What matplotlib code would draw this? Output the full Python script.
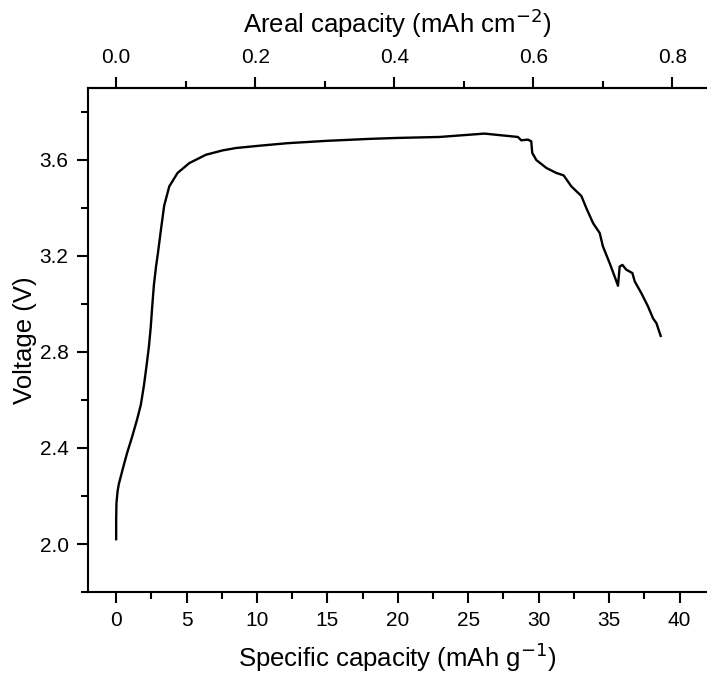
import numpy as np
import matplotlib.pyplot as plt
from matplotlib.ticker import MultipleLocator

plt.rcParams['font.family'] = ['Liberation Sans', 'DejaVu Sans']

# specific capacity (mAh/g) and voltage (V)
capacity = [0.0, 0.0, 0.02, 0.1, 0.19, 0.5, 0.78, 1.15, 1.49, 1.75, 1.97,
            2.15, 2.32, 2.45, 2.56, 2.68, 2.84, 2.96, 3.07, 3.18, 3.41, 3.77,
            4.36, 5.19, 6.38, 7.56, 8.51, 10.26, 12.15, 15.0, 18.0, 20.0,
            22.96, 26.15, 28.52, 28.76, 29.23, 29.47, 29.54, 29.83, 30.54,
            31.25, 31.77, 32.32, 33.03, 33.38, 33.86, 34.33, 34.56, 35.04,
            35.39, 35.63, 35.75, 35.94, 36.22, 36.65, 36.82, 37.29, 37.76,
            38.12, 38.36, 38.66]
voltage = [2.02, 2.10, 2.17, 2.22, 2.25, 2.32, 2.38, 2.45, 2.52, 2.58, 2.66,
           2.74, 2.82, 2.90, 2.99, 3.08, 3.16, 3.21, 3.26, 3.31, 3.41, 3.49,
           3.546, 3.587, 3.622, 3.64, 3.65, 3.66, 3.67, 3.68, 3.688, 3.692,
           3.696, 3.71, 3.696, 3.682, 3.685, 3.678, 3.63, 3.60, 3.567,
           3.546, 3.536, 3.49, 3.45, 3.40, 3.337, 3.296, 3.24, 3.17,
           3.115, 3.076, 3.156, 3.163, 3.143, 3.129, 3.094, 3.045, 2.99,
           2.94, 2.92, 2.867]

areal_ticks = [0.0, 0.2, 0.4, 0.6, 0.8]

# mass loading: areal = specific * k
k = 0.8 / 39.5

fig = plt.figure(figsize=(7.07, 6.77), dpi=100)
ax = fig.add_axes([88 / 707, 1 - 592 / 677, 1 - 88 / 707, (592 - 88) / 677])

ax.plot(capacity, voltage, color='black', linewidth=1.7, solid_joinstyle='round')

ax.set_xlim(-2, 41.95)
ax.set_ylim(1.8, 3.9)
ax.xaxis.set_major_locator(MultipleLocator(5))
ax.xaxis.set_minor_locator(MultipleLocator(2.5))
ax.yaxis.set_major_locator(MultipleLocator(0.4))
ax.yaxis.set_minor_locator(MultipleLocator(0.2))
ax.yaxis.set_major_formatter(plt.FormatStrFormatter('%.1f'))

for s in ax.spines.values():
    s.set_linewidth(1.5)
ax.spines['right'].set_visible(False)
ax.tick_params(which='major', direction='out', length=8, width=1.5, labelsize=15, pad=6)
ax.tick_params(which='minor', direction='out', length=5, width=1.5)
ax.tick_params(axis='y', right=False)

ax.set_xlabel('Specific capacity (mAh g$^{-1}$)', fontsize=18.5, labelpad=7)
ax.set_ylabel('Voltage (V)', fontsize=18.5, labelpad=2)

sec = ax.secondary_xaxis('top', functions=(lambda x: x * k, lambda a: a / k))
sec.spines['top'].set_linewidth(1.5)
sec.set_xticks(areal_ticks)
sec.xaxis.set_minor_locator(MultipleLocator(0.1))
sec.xaxis.set_major_formatter(plt.FormatStrFormatter('%.1f'))
sec.tick_params(which='major', direction='out', length=8, width=1.5, labelsize=15, pad=7)
sec.tick_params(which='minor', direction='out', length=5, width=1.5)
sec.set_xlabel('Areal capacity (mAh cm$^{-2}$)', fontsize=18.5, labelpad=11)

fig.savefig('out.png', dpi=100)
